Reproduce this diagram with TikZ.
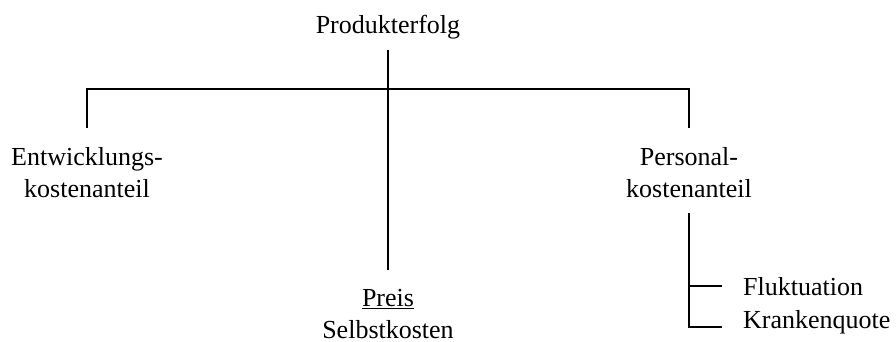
\documentclass[tikz,border=0pt]{standalone}
\usepackage{fontspec}
\setmainfont{Liberation Serif}
\begin{document}
\begin{tikzpicture}[x=1pt,y=-1pt,
  lbl/.style={inner sep=0pt, font=\fontsize{26}{32}\selectfont, align=center},
  link/.style={line width=2pt, draw=black}]
\useasboundingbox (0,0) rectangle (896,341);

% labels
\node[lbl, anchor=base] (top) at (388,33) {Produkterfolg};
\node[lbl, anchor=north] (ent) at (87,147) {Entwicklungs-\\kostenanteil};
\node[lbl, anchor=north] (pers) at (689,147) {Personal-\\kostenanteil};
\node[lbl, anchor=north] (price) at (388,289) {\underline{Preis}\\Selbstkosten};
\node[lbl, anchor=base west] (fluk) at (743,295) {Fluktuation};
\node[lbl, anchor=base west] (krank) at (743,328) {Krankenquote};

% junction points
\coordinate (bar) at (388,89);
\coordinate (fj) at (722,286);
\coordinate (kj) at (722,327);

% main trunk and cross bar
\draw[link] (top.south |- 0,50) -- ([yshift=19pt]price.north);
\draw[link] ([yshift=19pt]ent.north) -- (ent.north |- bar)
  -- (pers.north |- bar) -- ([yshift=19pt]pers.north);

% branches below Personalkostenanteil
\draw[link] (pers.south |- 0,213) -- (pers.south |- kj) -- (kj);
\draw[link] (pers.south |- fj) -- (fj);
\end{tikzpicture}
\end{document}
